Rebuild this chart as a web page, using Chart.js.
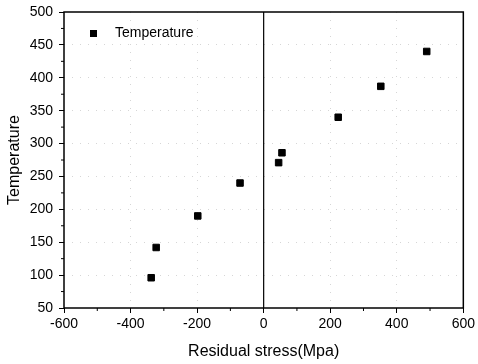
<!DOCTYPE html>
<html>
<head>
<meta charset="utf-8">
<script src="https://cdn.jsdelivr.net/npm/chart.js@4/dist/chart.umd.min.js"></script>
<style>
  html, body { margin: 0; padding: 0; background: #fff; }
  #wrap { width: 478px; height: 364px; }
</style>
</head>
<body>
<div id="wrap"><canvas id="chart1"></canvas></div>
<script>
// residual stress (MPa) vs temperature
const stress = [-338, -323, -198, -71, 45, 55, 224, 352, 490];
const temperature = [96, 142, 190, 240, 271, 286, 340, 387, 440];
const seriesName = 'Temperature';
const xTicks = [-600, -400, -200, 0, 200, 400, 600];
const yTicks = [50, 100, 150, 200, 250, 300, 350, 400, 450, 500];

const points = stress.map((s, i) => ({ x: s, y: temperature[i] }));
const fontFam = '"Liberation Sans", Arial, sans-serif';

// frame, zero line, minor ticks and legend
const framePlugin = {
  id: 'frame',
  afterDraw(chart) {
    const ctx = chart.ctx;
    const a = chart.chartArea;
    const xs = chart.scales.x, ys = chart.scales.y;
    ctx.save();
    ctx.strokeStyle = '#000';
    ctx.lineWidth = 1.5;
    ctx.strokeRect(a.left, a.top, a.right - a.left, a.bottom - a.top);

    // vertical line at x = 0
    const x0 = xs.getPixelForValue(0);
    ctx.lineWidth = 1.2;
    ctx.beginPath();
    ctx.moveTo(x0, a.top);
    ctx.lineTo(x0, a.bottom);
    ctx.stroke();

    // minor ticks
    ctx.lineWidth = 1;
    ctx.beginPath();
    for (let v = -500; v < 600; v += 200) {
      const px = xs.getPixelForValue(v);
      ctx.moveTo(px, a.bottom);
      ctx.lineTo(px, a.bottom + 3);
    }
    for (let v = 75; v < 500; v += 50) {
      const py = ys.getPixelForValue(v);
      ctx.moveTo(a.left, py);
      ctx.lineTo(a.left - 3, py);
    }
    ctx.stroke();

    // legend
    ctx.fillStyle = '#000';
    ctx.fillRect(a.left + 26, a.top + 18, 7, 7);
    ctx.font = '14px ' + fontFam;
    ctx.textBaseline = 'middle';
    ctx.fillText(seriesName, a.left + 51, a.top + 21.5);
    ctx.restore();
  }
};

const config = {
  type: 'scatter',
  data: {
    datasets: [{
      label: seriesName,
      data: points,
      pointStyle: 'rect',
      pointRadius: 4.6,
      backgroundColor: '#000',
      borderColor: '#000',
      borderWidth: 1
    }]
  },
  options: {
    responsive: true,
    maintainAspectRatio: false,
    animation: false,
    layout: { padding: { left: 0, right: 12, top: 12, bottom: 0 } },
    plugins: {
      legend: { display: false },
      tooltip: { enabled: false }
    },
    scales: {
      x: {
        type: 'linear',
        min: -600,
        max: 600,
        afterBuildTicks: (s) => { s.ticks = xTicks.map(v => ({ value: v })); },
        afterFit: (s) => { s.height = 56; },
        ticks: {
          color: '#000',
          font: { size: 14, family: fontFam },
          padding: 3
        },
        grid: {
          color: (c) => (c.tick && (c.tick.value === -600 || c.tick.value === 600 || c.tick.value === 0)) ? 'rgba(0,0,0,0)' : '#d6d6d6',
          tickColor: '#000',
          tickLength: 5,
          tickWidth: 1
        },
        border: { display: false, dash: [1, 7] },
        title: {
          display: true,
          text: 'Residual stress(Mpa)',
          color: '#000',
          font: { size: 16, family: fontFam },
          padding: { top: 6, bottom: 3 }
        }
      },
      y: {
        type: 'linear',
        min: 50,
        max: 500,
        afterBuildTicks: (s) => { s.ticks = yTicks.map(v => ({ value: v })); },
        afterFit: (s) => { s.width = 64; s.paddingTop = 0; s.paddingBottom = 0; },
        ticks: {
          color: '#000',
          font: { size: 14, family: fontFam },
          padding: 6
        },
        grid: {
          color: (c) => (c.tick && (c.tick.value === 50 || c.tick.value === 500)) ? 'rgba(0,0,0,0)' : '#d6d6d6',
          tickColor: '#000',
          tickLength: 5,
          tickWidth: 1
        },
        border: { display: false, dash: [1, 7] },
        title: {
          display: true,
          text: 'Temperature',
          color: '#000',
          font: { size: 16, family: fontFam },
          padding: { top: 5, bottom: 4 }
        }
      }
    }
  },
  plugins: [framePlugin]
};

const ctx = document.getElementById('chart1').getContext('2d');
const myChart = new Chart(ctx, config);
</script>
</body>
</html>
